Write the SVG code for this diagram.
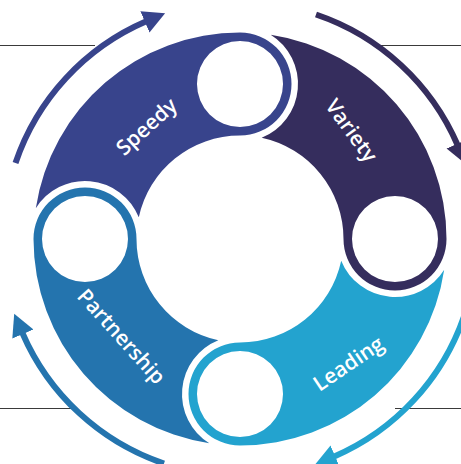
<svg xmlns="http://www.w3.org/2000/svg" xmlns:xlink="http://www.w3.org/1999/xlink" width="461" height="464" viewBox="0 0 461 464">
<style>
.lbl{font-family:"Open Sans","Liberation Sans",sans-serif;font-size:21px;font-weight:600;fill:#ffffff;text-anchor:middle;dominant-baseline:central}
.rule{stroke:#3a3a3a;stroke-width:1.2;fill:none}
.arc{fill:none;stroke-width:6}
</style>
<defs>
<path id="seg" fill-rule="evenodd" d="M -204.204 -30.696 A 206.5 206.5 0 0 1 0 -206.5 A 51.5 51.5 0 0 1 0 -103.5 A 103.5 103.5 0 0 0 -101.204 -21.678 A 58 58 0 0 0 -204.204 -30.696 Z M 0 -198 A 43 43 0 1 0 0 -112 A 43 43 0 1 0 0 -198 Z"/>
<marker id="hS" markerUnits="userSpaceOnUse" markerWidth="24" markerHeight="24" refX="1.5" refY="11.5" orient="auto"><path d="M0,0 L22,11.5 L0,23 Z" fill="#38448c"/></marker>
<marker id="hV" markerUnits="userSpaceOnUse" markerWidth="24" markerHeight="24" refX="1.5" refY="11.5" orient="auto"><path d="M0,0 L22,11.5 L0,23 Z" fill="#352d5d"/></marker>
<marker id="hL" markerUnits="userSpaceOnUse" markerWidth="24" markerHeight="24" refX="1.5" refY="11.5" orient="auto"><path d="M0,0 L22,11.5 L0,23 Z" fill="#23a3cf"/></marker>
<marker id="hP" markerUnits="userSpaceOnUse" markerWidth="24" markerHeight="24" refX="1.5" refY="11.5" orient="auto"><path d="M0,0 L22,11.5 L0,23 Z" fill="#2474ae"/></marker>
</defs>
<g id="rules">
<line class="rule" x1="0" y1="45.5" x2="95" y2="45.5"/>
<line class="rule" x1="378" y1="45.5" x2="461" y2="45.5"/>
<line class="rule" x1="0" y1="408.5" x2="72" y2="408.5"/>
<line class="rule" x1="395" y1="408.5" x2="461" y2="408.5"/>
</g>
<g id="connectors">
<path class="arc" stroke="#38448c" marker-end="url(#hS)" d="M 15.5 163 A 237 237 0 0 1 146.3 21.3"/>
<path class="arc" stroke="#352d5d" marker-end="url(#hV)" d="M 316 14.5 A 237 237 0 0 1 457.7 145.3"/>
<path class="arc" stroke="#23a3cf" marker-end="url(#hL)" d="M 464.5 315 A 237 237 0 0 1 333.7 456.7"/>
<path class="arc" stroke="#2474ae" marker-end="url(#hP)" d="M 164 463.5 A 237 237 0 0 1 22.3 332.7"/>
</g>
<g id="speedy">
<use xlink:href="#seg" href="#seg" fill="#38448c" transform="translate(240,239)"/>
<text class="lbl" transform="translate(146,126) rotate(-42)">Speedy</text>
</g>
<g id="variety">
<use xlink:href="#seg" href="#seg" fill="#352d5d" transform="translate(240,239) rotate(90)"/>
<text class="lbl" transform="translate(352,130) rotate(54)">Variety</text>
</g>
<g id="leading">
<use xlink:href="#seg" href="#seg" fill="#23a3cf" transform="translate(240,239) rotate(180)"/>
<text class="lbl" transform="translate(348,363) rotate(-34)">Leading</text>
</g>
<g id="partnership">
<use xlink:href="#seg" href="#seg" fill="#2474ae" transform="translate(240,239) rotate(270)"/>
<text class="lbl" transform="translate(122,336) rotate(48)">Partnership</text>
</g>
</svg>
